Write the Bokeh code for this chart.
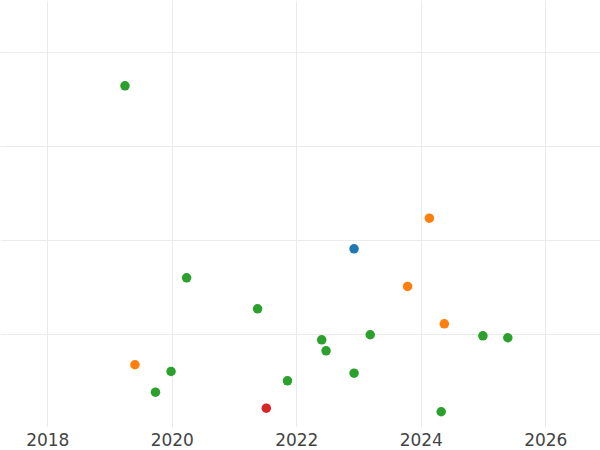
from bokeh.plotting import figure
from bokeh.models import SingleIntervalTicker, Range1d
from bokeh.embed import file_html
from bokeh.resources import INLINE

# Series data (year, value)
green_x = [2019.24, 2020.23, 2021.37, 2023.18, 2022.40, 2024.99, 2025.39, 2022.47,
           2019.98, 2022.92, 2021.85, 2019.73, 2024.32]
green_y = [3.648, 1.601, 1.271, 0.994, 0.940, 0.983, 0.962, 0.823,
           0.602, 0.584, 0.503, 0.382, 0.173]
orange_x = [2024.13, 2023.78, 2024.37, 2019.40]
orange_y = [2.237, 1.509, 1.111, 0.674]
blue_x = [2022.92]
blue_y = [1.910]
red_x = [2021.51]
red_y = [0.211]

series = [
    (blue_x, blue_y, "#1f77b4"),
    (orange_x, orange_y, "#ff7f0e"),
    (green_x, green_y, "#2ca02c"),
    (red_x, red_y, "#d62728"),
]

p = figure(width=600, height=450, output_backend="svg", toolbar_location=None,
           x_range=Range1d(2017.240, 2026.879), y_range=Range1d(0.005, 4.558),
           min_border_left=0, min_border_right=0, min_border_top=0, min_border_bottom=23)
p.outline_line_color = None
p.background_fill_color = "white"

p.xaxis.ticker = SingleIntervalTicker(interval=2)
p.yaxis.ticker = SingleIntervalTicker(interval=1)
p.yaxis.visible = False
p.xaxis.axis_line_color = None
p.xaxis.major_tick_line_color = None
p.xaxis.minor_tick_line_color = None
p.xaxis.major_tick_out = 0
p.xaxis.major_tick_in = 0
p.xaxis.major_label_standoff = 1
p.xaxis.major_label_text_font = "DejaVu Sans"
p.xaxis.major_label_text_font_size = "17px"
p.xaxis.major_label_text_color = "#444444"

p.xgrid.grid_line_color = "#ebebeb"
p.ygrid.grid_line_color = "#ebebeb"
p.xgrid.grid_line_width = 1
p.ygrid.grid_line_width = 1

for xs, ys, c in series:
    p.scatter(xs, ys, size=9.5, fill_color=c, line_color=None)

open("out.html", "w").write(file_html(p, INLINE))
